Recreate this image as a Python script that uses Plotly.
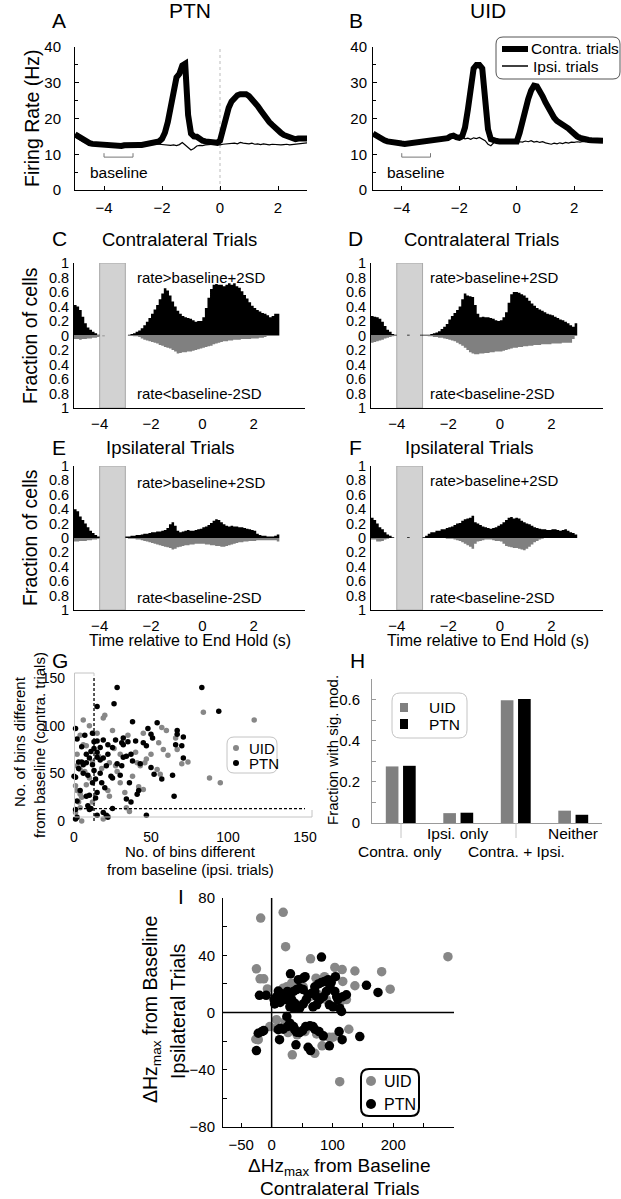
import numpy as np
import plotly.graph_objects as go

W, H = 621, 1199
FONT = "Liberation Sans, Arial, Helvetica, sans-serif"


def px(x):
    return x / W


def py(y):
    return 1 - y / H


# ------------------------------------------------------------------ data
# Panels A/B: mean firing rate (Hz), 0.1 s steps from -5 to 3 s
rate_time = [round(-5.0 + 0.1 * i, 1) for i in range(81)]
ptn_contra = [15.6, 15.0, 14.4, 13.9, 13.5, 13.1, 12.9, 12.8, 12.7, 12.6,
              12.6, 12.5, 12.5, 12.3, 12.2, 12.1, 12.3, 12.5, 12.6, 12.6,
              12.7, 12.6, 12.6, 12.6, 12.7, 12.8, 12.9, 13.1, 13.3, 13.6,
              14.3, 16.0, 19.0, 24.0, 29.0, 31.5, 32.5, 34.8, 35.3, 21.0,
              15.8, 15.0, 14.9, 14.2, 13.8, 13.6, 13.4, 13.2, 13.1, 13.2,
              13.8, 17.0, 20.5, 23.0, 24.8, 25.8, 26.5, 26.8, 27.0, 26.8,
              26.3, 25.5, 24.5, 23.5, 22.3, 21.0, 20.0, 19.0, 18.2, 17.3,
              16.6, 16.0, 15.4, 15.0, 14.6, 14.3, 14.2, 14.4, 14.5, 14.3,
              14.4]
ptn_ipsi = [14.8, 14.3, 13.8, 13.4, 13.1, 12.9, 12.8, 12.7, 12.6, 12.5,
            12.5, 12.4, 12.4, 12.2, 12.1, 12.0, 12.2, 12.4, 12.5, 12.5,
            12.6, 12.5, 12.5, 12.6, 12.6, 12.7, 12.8, 12.8, 12.9, 12.8,
            12.7, 12.8, 12.6, 12.5, 12.6, 12.4, 12.7, 13.3, 12.6, 12.0,
            11.2, 11.6, 12.3, 12.5, 12.4, 12.6, 12.7, 12.6, 12.8, 12.7,
            12.6, 12.8, 12.9, 12.8, 13.0, 13.1, 12.9, 13.3, 13.1, 13.0,
            12.9, 13.1, 12.8, 12.9, 12.7, 12.9, 12.8, 12.6, 12.8, 12.7,
            12.8, 12.6, 12.7, 12.8, 12.6, 12.7, 12.9, 12.8, 13.0, 13.1,
            13.2]
uid_contra = [15.8, 15.2, 14.6, 14.2, 13.9, 13.6, 13.4, 13.5, 13.3, 13.2,
              13.0, 12.9, 13.0, 13.1, 13.2, 13.3, 13.4, 13.4, 13.5, 13.6,
              13.6, 13.7, 13.8, 13.9, 14.0, 14.2, 14.5, 15.0, 15.2, 14.8,
              14.6, 15.0, 17.5, 22.5, 29.0, 34.0, 35.0, 35.0, 34.0, 26.0,
              17.0, 14.2, 13.8, 13.7, 13.6, 13.6, 13.5, 13.4, 13.4, 13.4,
              13.6, 16.0, 19.5, 22.5, 25.5, 27.8, 29.2, 29.0, 27.8, 26.2,
              24.5, 22.8, 21.3, 20.2, 19.3, 18.8, 18.6, 18.1, 17.2, 16.4,
              15.6, 15.0, 14.6, 14.3, 14.1, 14.0, 13.9, 13.8, 13.7, 13.6,
              13.8]
uid_ipsi = [15.5, 15.0, 14.4, 14.0, 13.7, 13.5, 13.3, 13.3, 13.1, 13.0,
            12.8, 12.8, 12.9, 13.0, 13.1, 13.2, 13.2, 13.3, 13.4, 13.4,
            13.5, 13.5, 13.6, 13.7, 13.8, 14.0, 14.2, 14.6, 14.8, 14.5,
            14.4, 14.6, 14.3, 14.5, 14.2, 14.6, 14.4, 14.7, 14.3, 13.8,
            12.8, 12.4, 13.2, 13.8, 13.6, 13.9, 13.5, 13.7, 13.4, 13.6,
            13.3, 13.5, 13.4, 13.7, 13.5, 13.8, 13.4, 13.6, 13.3, 13.5,
            13.2, 13.0, 12.8, 13.1, 12.9, 13.2, 13.0, 13.3, 13.1, 13.4,
            13.3, 13.5, 13.4, 13.6, 13.5, 13.7, 13.6, 13.8, 13.7, 13.9,
            14.0]

# Panels C-F: fraction of cells per 0.1 s bin (left edges -5.0 ... 2.9)
hist_edges = [round(-5.0 + 0.1 * i, 1) for i in range(81)]
C_up = [0.42, 0.40, 0.35, 0.26, 0.17, 0.11, 0.08, 0.05, 0.03, 0.01,
        0, 0, 0, 0, 0, 0, 0, 0, 0, 0,
        0.00, 0.01, 0.02, 0.03, 0.05, 0.07, 0.10, 0.14, 0.19, 0.24,
        0.30, 0.36, 0.42, 0.50, 0.58, 0.65, 0.62, 0.55, 0.47, 0.40,
        0.34, 0.30, 0.27, 0.25, 0.24, 0.23, 0.21, 0.19, 0.20, 0.20,
        0.25, 0.38, 0.52, 0.64, 0.70, 0.71, 0.70, 0.70, 0.68, 0.70,
        0.72, 0.70, 0.72, 0.68, 0.66, 0.61, 0.56, 0.51, 0.46, 0.41,
        0.38, 0.35, 0.33, 0.31, 0.30, 0.28, 0.25, 0.27, 0.30, 0.30]
C_dn = [0.05, 0.05, 0.06, 0.05, 0.05, 0.04, 0.04, 0.03, 0.03, 0.02,
        0, 0.01, 0, 0, 0, 0, 0, 0, 0, 0,
        0, 0, 0, 0.01, 0.01, 0.02, 0.04, 0.06, 0.07, 0.08,
        0.09, 0.10, 0.11, 0.13, 0.14, 0.16, 0.17, 0.18, 0.20, 0.22,
        0.25, 0.24, 0.23, 0.23, 0.22, 0.22, 0.21, 0.20, 0.19, 0.18,
        0.17, 0.16, 0.15, 0.14, 0.12, 0.11, 0.10, 0.09, 0.08, 0.08,
        0.07, 0.07, 0.06, 0.06, 0.06, 0.05, 0.05, 0.05, 0.05, 0.04,
        0.04, 0.04, 0.03, 0.03, 0.02, 0, 0, 0, 0, 0]
D_up = [0.27, 0.26, 0.25, 0.23, 0.19, 0.13, 0.08, 0.05, 0.02, 0.01,
        0, 0, 0, 0, 0.01, 0, 0, 0, 0, 0.01,
        0.01, 0.01, 0.01, 0.02, 0.03, 0.04, 0.06, 0.09, 0.12, 0.16,
        0.22, 0.27, 0.31, 0.35, 0.40, 0.50, 0.58, 0.55, 0.54, 0.53,
        0.42, 0.30, 0.25, 0.26, 0.25, 0.25, 0.24, 0.23, 0.21, 0.20,
        0.21, 0.25, 0.32, 0.45, 0.57, 0.60, 0.60, 0.59, 0.57, 0.55,
        0.52, 0.48, 0.44, 0.41, 0.38, 0.36, 0.34, 0.32, 0.30, 0.29,
        0.28, 0.26, 0.24, 0.22, 0.21, 0.19, 0.17, 0.14, 0.12, 0.17]
D_dn = [0.10, 0.09, 0.08, 0.07, 0.06, 0.04, 0.03, 0.02, 0.01, 0,
        0, 0, 0, 0, 0, 0, 0, 0, 0, 0,
        0, 0, 0.01, 0.01, 0.02, 0.02, 0.03, 0.03, 0.04, 0.05,
        0.06, 0.07, 0.08, 0.10, 0.12, 0.14, 0.17, 0.20, 0.23, 0.25,
        0.26, 0.26, 0.25, 0.25, 0.24, 0.24, 0.23, 0.23, 0.22, 0.22,
        0.22, 0.21, 0.20, 0.19, 0.18, 0.17, 0.17, 0.16, 0.16, 0.15,
        0.15, 0.14, 0.14, 0.13, 0.13, 0.13, 0.12, 0.12, 0.12, 0.12,
        0.11, 0.11, 0.11, 0.11, 0.10, 0.10, 0.10, 0.10, 0.05, 0]
E_up = [0.40, 0.37, 0.30, 0.25, 0.20, 0.15, 0.10, 0.07, 0.04, 0.02,
        0, 0, 0, 0, 0, 0, 0, 0, 0, 0,
        0.02, 0.02, 0.03, 0.03, 0.04, 0.04, 0.05, 0.06, 0.06, 0.07,
        0.08, 0.08, 0.09, 0.09, 0.10, 0.11, 0.14, 0.19, 0.22, 0.17,
        0.10, 0.08, 0.09, 0.10, 0.11, 0.10, 0.10, 0.11, 0.12, 0.13,
        0.15, 0.16, 0.18, 0.21, 0.24, 0.26, 0.25, 0.22, 0.19, 0.17,
        0.16, 0.17, 0.16, 0.16, 0.15, 0.15, 0.14, 0.13, 0.12, 0.11,
        0.10, 0.06, 0.04, 0.03, 0.03, 0.02, 0.02, 0.02, 0.03, 0.05]
E_dn = [0.05, 0.05, 0.04, 0.04, 0.04, 0.03, 0.03, 0.02, 0.02, 0.01,
        0, 0, 0, 0, 0, 0, 0, 0, 0, 0,
        0, 0.01, 0.01, 0.01, 0.02, 0.02, 0.03, 0.04, 0.05, 0.06,
        0.07, 0.08, 0.09, 0.10, 0.11, 0.12, 0.13, 0.14, 0.16, 0.15,
        0.13, 0.12, 0.11, 0.10, 0.10, 0.09, 0.09, 0.08, 0.08, 0.08,
        0.08, 0.09, 0.09, 0.10, 0.10, 0.11, 0.11, 0.12, 0.12, 0.11,
        0.10, 0.09, 0.08, 0.07, 0.06, 0.06, 0.05, 0.05, 0.04, 0.04,
        0.04, 0.03, 0.03, 0.03, 0.03, 0.03, 0.03, 0.03, 0.03, 0.05]
F_up = [0.28, 0.25, 0.20, 0.15, 0.12, 0.08, 0.05, 0.03, 0.01, 0,
        0, 0, 0, 0, 0.01, 0, 0, 0, 0, 0,
        0.01, 0.03, 0.06, 0.08, 0.08, 0.10, 0.10, 0.12, 0.12, 0.14,
        0.15, 0.16, 0.18, 0.20, 0.21, 0.24, 0.26, 0.27, 0.28, 0.31,
        0.22, 0.20, 0.18, 0.16, 0.15, 0.14, 0.13, 0.14, 0.15, 0.17,
        0.19, 0.22, 0.25, 0.28, 0.29, 0.27, 0.28, 0.27, 0.24, 0.22,
        0.20, 0.19, 0.17, 0.15, 0.14, 0.13, 0.12, 0.12, 0.11, 0.11,
        0.12, 0.12, 0.11, 0.10, 0.11, 0.12, 0.10, 0.08, 0.07, 0.05]
F_dn = [0.02, 0.02, 0.05, 0.05, 0.04, 0.02, 0.01, 0, 0, 0,
        0, 0, 0, 0, 0, 0, 0, 0, 0, 0,
        0, 0, 0, 0, 0, 0, 0, 0, 0, 0.01,
        0.01, 0.01, 0.02, 0.03, 0.04, 0.06, 0.08, 0.10, 0.12, 0.15,
        0.08, 0.05, 0.04, 0.03, 0.02, 0.02, 0.02, 0.03, 0.04, 0.04,
        0.05, 0.08, 0.11, 0.12, 0.13, 0.14, 0.14, 0.15, 0.16, 0.17,
        0.15, 0.12, 0.09, 0.06, 0.04, 0.02, 0.01, 0, 0, 0,
        0, 0, 0, 0, 0, 0, 0, 0, 0, 0]

# Panel G: number of bins different from baseline (ipsi, contra)
G_threshold_ipsi = 13
G_threshold_contra = 13
G_ptn = [(28, 140), (83, 140), (94, 115), (15, 120), (26, 123), (1, 97), (38, 104), (48, 97),
         (54, 103), (67, 95), (67, 91), (71, 88), (50, 91), (51, 87), (2, 86), (7, 90), (13, 83),
         (15, 84), (11, 73), (13, 76), (15, 72), (17, 77), (22, 80), (25, 77), (27, 85), (32, 87),
         (32, 80), (31, 82), (35, 83), (40, 84), (45, 82), (47, 79), (66, 80), (70, 79), (71, 66),
         (1, 46), (5, 62), (6, 59), (8, 61), (10, 66), (12, 59), (13, 53), (15, 67), (17, 64),
         (19, 66), (21, 58), (31, 58), (32, 67), (34, 68), (37, 70), (38, 63), (50, 56), (52, 49),
         (57, 44), (64, 48), (2, 21), (8, 26), (10, 27), (14, 24), (15, 30), (18, 40), (20, 35),
         (24, 47), (25, 45), (34, 23), (37, 20), (65, 26), (42, 32), (41, 28), (1, 12), (1, 2),
         (2, 4), (10, 12), (11, 13), (19, 9), (21, 6), (22, 4), (47, 6), (9, 16), (5, 78), (8, 70),
         (3, 55), (9, 48), (12, 40), (17, 50), (22, 70), (28, 60), (30, 48), (43, 60), (36, 40),
         (19, 85), (4, 32), (25, 13), (15, 6), (12, 92), (0, 47), (3, 62), (6, 50), (14, 44)]
G_uid = [(84, 114), (117, 106), (20, 111), (19, 108), (6, 106), (57, 98), (66, 87), (6, 80),
         (8, 79), (55, 82), (58, 75), (61, 69), (74, 62), (67, 75), (2, 58), (4, 54), (23, 61),
         (27, 58), (28, 52), (41, 61), (43, 58), (46, 61), (47, 65), (54, 54), (56, 49), (88, 45),
         (95, 40), (1, 37), (2, 32), (4, 28), (5, 25), (22, 32), (23, 26), (42, 36), (45, 33),
         (34, 14), (36, 10), (1, 9), (4, 14), (5, 0), (19, 2), (22, 5), (10, 100), (15, 92),
         (25, 95), (35, 90), (45, 92), (40, 72), (30, 70), (18, 55), (10, 45), (8, 38), (12, 20),
         (30, 40), (50, 70), (60, 95), (70, 60), (2, 70), (4, 90), (3, 20), (12, 62), (33, 30),
         (7, 52), (26, 76), (16, 68), (38, 47)]

# Panel H: fraction with significant modulation
H_categories = ["Contra. only", "Ipsi. only", "Contra. + Ipsi.", "Neither"]
H_uid = [0.275, 0.048, 0.597, 0.060]
H_ptn = [0.278, 0.050, 0.603, 0.040]

# Panel I: max change in rate from baseline (contra, ipsi)
I_ptn = [(82, 38.7), (31, 27), (55, 25), (105, 25), (156, 19), (175, 14), (-20, 12), (-9, 12),
         (11, 15), (14, 13.5), (19, 12.4), (8, 11), (4, 9), (5, 6), (14, 7), (22, 9), (27, 11),
         (33, 9), (38, 6.5), (42, 4), (36, 3), (46, 3), (52, 6), (57, 9), (60, 12.4), (66, 13.5),
         (71, 14.7), (74, 11), (79, 9), (85, 11), (90, 14.7), (96, 18), (98, 21), (104, 14.7),
         (107, 11), (109, 9), (112, 3), (115, 0.7), (117, 11), (123, 12.4), (71, 18), (77, 20),
         (82, 21), (87, 21.7), (93, 22.9), (52, 16), (46, 17), (41, 16), (36, 14.7), (26, 14.7),
         (68, 4), (74, 5.4), (95, 5.4), (101, 4), (30, 4), (44, 22.9), (52, 24),
         (-25, -26.6), (-22, -14.5), (-16, -13.3), (-13, -12.6), (13, -19), (11, -12), (19, -11.7),
         (26, -9.8), (30, -7.5), (36, -9.8), (38, -12), (41, -13.8), (46, -14), (51, -12.6),
         (56, -9.8), (63, -9.3), (68, -9.8), (71, -11.7), (78, -13.3), (85, -16.3), (95, -23.3),
         (111, -13.3), (116, -19), (145, -16.8), (40, -22.6), (60, -24.3), (64, -26.6),
         (25, -2.8), (14, -11)]
I_uid = [(-18, 66), (19, 70), (23, 46), (64, 37.5), (-25, 30.5), (-19, 23.5), (-13, 23.5),
         (-7, 16.5), (104, 31.5), (116, 30), (137, 29), (181, 28.5), (290, 39), (195, 16.3),
         (137, 18.7), (117, 21.7), (87, 25), (73, 24), (52, 18), (46, 21.7), (33, 20.5), (25, 18),
         (19, 17), (15, 14.7), (63, 11), (75, 13), (90, 9), (112, 6.5), (123, 9), (96, 20.5),
         (-26, -18.7), (-22, -19), (8, -5), (27, -14), (42, -15.6), (55, -13.3), (74, -15),
         (85, -16.8), (95, -17.3), (101, -17.3), (127, -11.7), (34, -29.6), (71, -28.5),
         (83, -23.3), (112, -48.3), (8, -11), (22, -6.3), (-3, -9.8)]

GRAY = "#878787"
LIGHT = "#c4c4c4"

# ------------------------------------------------------------------ figure
fig = go.Figure()


def step(vals, sign, color, xa, ya):
    y = [sign * v for v in vals] + [sign * vals[-1]]
    return go.Scatter(x=hist_edges, y=y, mode="lines", fill="tozeroy",
                      line=dict(width=0, shape="hv", color=color), fillcolor=color,
                      xaxis=xa, yaxis=ya, hoverinfo="skip", showlegend=False)


# A, B rates
for (c, i, xa, ya) in [(ptn_contra, ptn_ipsi, "x", "y"), (uid_contra, uid_ipsi, "x2", "y2")]:
    fig.add_trace(go.Scatter(x=rate_time, y=i, mode="lines", line=dict(color="black", width=1.2),
                             xaxis=xa, yaxis=ya, showlegend=False))
    fig.add_trace(go.Scatter(x=rate_time, y=c, mode="lines", line=dict(color="black", width=6),
                             xaxis=xa, yaxis=ya, showlegend=False))

# C-F histograms
for (up, dn, n) in [(C_up, C_dn, 3), (D_up, D_dn, 4), (E_up, E_dn, 5), (F_up, F_dn, 6)]:
    fig.add_trace(step(up, 1, "black", f"x{n}", f"y{n}"))
    fig.add_trace(step(dn, -1, "#808080", f"x{n}", f"y{n}"))

# G scatter
fig.add_trace(go.Scatter(x=[p[0] for p in G_uid], y=[p[1] for p in G_uid], mode="markers",
                         marker=dict(color=GRAY, size=5.5), xaxis="x7", yaxis="y7",
                         showlegend=False, cliponaxis=False))
fig.add_trace(go.Scatter(x=[p[0] for p in G_ptn], y=[p[1] for p in G_ptn], mode="markers",
                         marker=dict(color="black", size=5.5), xaxis="x7", yaxis="y7",
                         showlegend=False, cliponaxis=False))

# H bars
hx = [1, 2, 3, 4]
fig.add_trace(go.Bar(x=hx, y=H_uid, width=0.22, offset=-0.26, marker=dict(color="#808080", line=dict(width=0)),
                     xaxis="x8", yaxis="y8", showlegend=False))
fig.add_trace(go.Bar(x=hx, y=H_ptn, width=0.22, offset=0.04, marker=dict(color="black", line=dict(width=0)),
                     xaxis="x8", yaxis="y8", showlegend=False))

# I scatter
fig.add_trace(go.Scatter(x=[p[0] for p in I_uid], y=[p[1] for p in I_uid], mode="markers",
                         marker=dict(color=GRAY, size=9.5), xaxis="x9", yaxis="y9",
                         showlegend=False, cliponaxis=False))
fig.add_trace(go.Scatter(x=[p[0] for p in I_ptn], y=[p[1] for p in I_ptn], mode="markers",
                         marker=dict(color="black", size=9.5), xaxis="x9", yaxis="y9",
                         showlegend=False, cliponaxis=False))

# ------------------------------------------------------------------ axes
TF = dict(family=FONT, size=15, color="black")
TF_SMALL = dict(family=FONT, size=14, color="black")


def axis(x0, x1, rng, anchor, horizontal, **kw):
    if horizontal:
        dom = [px(x0), px(x1)]
    else:
        dom = [py(x1), py(x0)]
    d = dict(domain=dom, range=rng, anchor=anchor, showgrid=False, zeroline=False,
             showline=True, linecolor="black", linewidth=1, ticks="inside", ticklen=4,
             tickcolor="black", tickfont=TF, automargin=False, fixedrange=True)
    d.update(kw)
    return d


lay = {}
# A
lay["xaxis"] = axis(75, 307, [-5, 3], "y", True, tickvals=[-4, -2, 0, 2], ticklabelstandoff=4)
lay["yaxis"] = axis(47, 190, [0, 40], "x", False, tickvals=[0, 10, 20, 30, 40],
                    minor=dict(dtick=5, ticks="inside", ticklen=3, tickcolor="black"),
                    ticklabelstandoff=10)
# B
lay["xaxis2"] = axis(373, 603, [-5, 3], "y2", True, tickvals=[-4, -2, 0, 2], ticklabelstandoff=4)
lay["yaxis2"] = axis(47, 190, [0, 40], "x2", False, tickvals=[0, 10, 20, 30, 40],
                     minor=dict(dtick=5, ticks="inside", ticklen=3, tickcolor="black"),
                     ticklabelstandoff=2)
# C-F
frac_vals = [round(-1 + 0.2 * k, 1) for k in range(11)]
frac_text = ["1", "0.8", "0.6", "0.4", "0.2", "0", "0.2", "0.4", "0.6", "0.8", "1"]
for n, (x0, x1, y0, y1) in {3: (74, 305, 263, 408), 4: (371, 603, 263, 408),
                            5: (74, 305, 466, 610), 6: (371, 603, 466, 610)}.items():
    lay[f"xaxis{n}"] = axis(x0, x1, [-5, 4], f"y{n}", True, tickvals=[-4, -2, 0, 2], ticks="",
                            ticklabelstandoff=2)
    lay[f"yaxis{n}"] = axis(y0, y1, [-1, 1], f"x{n}", False, tickvals=frac_vals[::-1],
                            ticktext=frac_text, ticks="", ticklabelstandoff=1,
                            tickfont=dict(family=FONT, size=14.5, color="black"))
# G
lay["xaxis7"] = axis(74, 305, [0, 150], "y7", True, showline=False, ticks="",
                     tickvals=[0, 50, 100, 150], ticklabelstandoff=6, tickfont=TF_SMALL)
lay["yaxis7"] = axis(678, 821, [0, 150], "x7", False, showline=False, ticks="",
                     tickvals=[0, 50, 100, 150], ticklabelstandoff=8, tickfont=TF_SMALL)
# H
lay["xaxis8"] = axis(372, 602, [0.5, 4.5], "y8", True, linecolor="#9a9a9a", ticks="",
                     showticklabels=False)
lay["yaxis8"] = axis(679, 823, [0, 0.7], "x8", False, linecolor="#9a9a9a",
                     tickvals=[0, 0.2, 0.4, 0.6], ticktext=["0", "0.2", "0.4", "0.6"],
                     tickcolor="#9a9a9a",
                     minor=dict(dtick=0.1, ticks="inside", ticklen=4, tickcolor="#9a9a9a"),
                     ticklabelstandoff=8)
# I
lay["xaxis9"] = axis(223, 454, [-80, 300], "y9", True, tickvals=[-50, 0, 100, 200],
                     minor=dict(tickvals=[50, 150, 250], ticks="inside", ticklen=4, tickcolor="black"),
                     ticklabelstandoff=4)
lay["yaxis9"] = axis(898, 1127, [-80, 80], "x9", False, tickvals=[-80, -40, 0, 40, 80],
                     minor=dict(dtick=20, ticks="inside", ticklen=4, tickcolor="black"),
                     ticklabelstandoff=4)

# ------------------------------------------------------------------ shapes
shapes = []


def pline(x0, y0, x1, y1, color="black", width=1, dash=None):
    d = dict(type="line", xref="paper", yref="paper", x0=px(x0), y0=py(y0), x1=px(x1), y1=py(y1),
             line=dict(color=color, width=width))
    if dash:
        d["line"]["dash"] = dash
    return d


def rrect(x0, y0, x1, y1, r, color, width):
    X, Y = px, py
    p = (f"M {X(x0 + r)},{Y(y0)} L {X(x1 - r)},{Y(y0)} Q {X(x1)},{Y(y0)} {X(x1)},{Y(y0 + r)} "
         f"L {X(x1)},{Y(y1 - r)} Q {X(x1)},{Y(y1)} {X(x1 - r)},{Y(y1)} L {X(x0 + r)},{Y(y1)} "
         f"Q {X(x0)},{Y(y1)} {X(x0)},{Y(y1 - r)} L {X(x0)},{Y(y0 + r)} Q {X(x0)},{Y(y0)} {X(x0 + r)},{Y(y0)} Z")
    return dict(type="path", xref="paper", yref="paper", path=p, line=dict(color=color, width=width),
                fillcolor="white")


def dot(cx, cy, r, color):
    return dict(type="circle", xref="paper", yref="paper", x0=px(cx - r), x1=px(cx + r),
                y0=py(cy + r), y1=py(cy - r), fillcolor=color, line=dict(width=0))


def box(x0, y0, x1, y1, color):
    return dict(type="rect", xref="paper", yref="paper", x0=px(x0), x1=px(x1),
                y0=py(y1), y1=py(y0), fillcolor=color, line=dict(width=0))


# A: dotted zero line + baseline brackets
shapes.append(dict(type="line", xref="x", yref="y", x0=0, x1=0, y0=0, y1=40,
                   line=dict(color="#bbbbbb", width=1, dash="dot"), layer="below"))
for xa, ya in [("x", "y"), ("x2", "y2")]:
    shapes.append(dict(type="path", xref=xa, yref=ya, path="M -4,10.3 L -4,9.2 L -3,9.2 L -3,10.3",
                       line=dict(color="#777777", width=1)))
# C-F shaded baseline window
for n in (3, 4, 5, 6):
    shapes.append(dict(type="rect", xref=f"x{n}", yref=f"y{n}", x0=-4, x1=-3, y0=-1, y1=1,
                       fillcolor="#d2d2d2", line=dict(color="#a8a8a8", width=1), layer="below"))
# G thresholds and light frame pieces
shapes.append(dict(type="line", xref="x7", yref="y7", x0=G_threshold_ipsi, x1=G_threshold_ipsi,
                   y0=0, y1=150, line=dict(color="black", width=1.3, dash="3px,2px")))
shapes.append(dict(type="line", xref="x7", yref="y7", x0=0, x1=150, y0=G_threshold_contra,
                   y1=G_threshold_contra, line=dict(color="black", width=1.3, dash="3px,2px")))
shapes += [pline(74.5, 673, 94, 673, LIGHT), pline(94, 673, 94, 676, LIGHT),
           pline(74.5, 673, 74.5, 817, LIGHT), pline(74.5, 817, 312, 817, LIGHT),
           pline(312, 810, 312, 817, LIGHT)]
# H long tick lines for lower labels
shapes += [pline(401, 823, 401, 838, LIGHT), pline(516, 823, 516, 838, LIGHT)]
# I zero lines
shapes.append(dict(type="line", xref="x9", yref="y9", x0=0, x1=0, y0=-80, y1=80,
                   line=dict(color="black", width=1.5)))
shapes.append(dict(type="line", xref="x9", yref="y9", x0=-80, x1=300, y0=0, y1=0,
                   line=dict(color="black", width=1.5)))

# legends
shapes.append(rrect(496, 37, 620, 79, 7, "#555555", 1))
shapes.append(pline(502, 49, 528, 49, "black", 6))
shapes.append(pline(502, 66, 528, 66, "black", 1.5))
shapes.append(rrect(227, 737, 277, 773, 7, LIGHT, 1))
shapes.append(dot(236, 748, 3, GRAY))
shapes.append(dot(236, 763, 3, "black"))
shapes.append(rrect(392, 693, 467, 738, 8, LIGHT, 1))
shapes.append(box(400, 703, 408, 712, "#808080"))
shapes.append(box(400, 719, 408, 729, "black"))
shapes.append(rrect(361, 1069, 419, 1116, 8, "black", 2))
shapes.append(dot(371, 1081, 5, GRAY))
shapes.append(dot(371, 1104, 5, "black"))

# ------------------------------------------------------------------ annotations
ann = []


def txt(x, y, s, size, xanchor="center", angle=0, color="black"):
    ann.append(dict(xref="paper", yref="paper", x=px(x), y=py(y), text=s, showarrow=False,
                    font=dict(family=FONT, size=size, color=color), xanchor=xanchor,
                    yanchor="middle", textangle=angle))


txt(59, 20, "A", 21)
txt(190, 11, "PTN", 21)
txt(356, 20, "B", 21)
txt(488, 11, "UID", 21)
txt(32, 118, "Firing Rate (Hz)", 19.5, angle=-90)
txt(119, 172, "baseline", 15.5)
txt(416, 172, "baseline", 15.5)
txt(529, 49, "Contra. trials", 15.5, xanchor="left")
txt(531, 66, "Ipsi. trials", 15.5, xanchor="left")

txt(59, 238, "C", 21)
txt(179, 240, "Contralateral Trials", 18.5)
txt(355, 238, "D", 21)
txt(481, 240, "Contralateral Trials", 18.5)
txt(59, 447, "E", 21)
txt(170, 447, "Ipsilateral Trials", 18.5)
txt(355, 447, "F", 21)
txt(469, 447, "Ipsilateral Trials", 18.5)
txt(30, 336, "Fraction of cells", 19.5, angle=-90)
txt(30, 538, "Fraction of cells", 19.5, angle=-90)
for (lx, ytop, ybot) in [(135, 277, 393), (428, 277, 393), (135, 482, 597), (428, 480, 597)]:
    txt(lx, ytop, "rate&gt;baseline+2SD", 15, xanchor="left")
    txt(lx, ybot, "rate&lt;baseline-2SD", 15, xanchor="left")
txt(190, 640, "Time relative to End Hold (s)", 16)
txt(488, 640, "Time relative to End Hold (s)", 16)

txt(60, 660, "G", 21)
txt(19, 742, "No. of bins different", 15, angle=-90)
txt(39, 745, "from baseline (contra. trials)", 15, angle=-90)
txt(190, 851, "No. of bins different", 15)
txt(190, 869, "from baseline (ipsi. trials)", 15)
txt(247, 748, "UID", 15, xanchor="left")
txt(247, 763, "PTN", 15, xanchor="left")

txt(357, 660, "H", 21)
txt(332, 750, "Fraction with sig. mod.", 15, angle=-90)
txt(427, 707, "UID", 15.5, xanchor="left")
txt(427, 725, "PTN", 15.5, xanchor="left")
txt(458, 833, H_categories[1], 15.5)
txt(573, 833, H_categories[3], 15.5)
txt(400, 851, H_categories[0], 15.5)
txt(516, 851, H_categories[2], 15.5)

txt(181, 896, "I", 21)
txt(151, 1010, "ΔHz<sub>max</sub> from Baseline", 19.5, angle=-90)
txt(178, 1011, "Ipsilateral Trials", 19.5, angle=-90)
txt(339, 1167, "ΔHz<sub>max</sub> from Baseline", 19)
txt(339, 1188, "Contralateral Trials", 19)
txt(382, 1081, "UID", 16, xanchor="left")
txt(382, 1104, "PTN", 16, xanchor="left")

fig.update_layout(width=W, height=H, margin=dict(l=0, r=0, t=0, b=0, pad=0, autoexpand=False),
                  autosize=False, hovermode=False,
                  paper_bgcolor="white", plot_bgcolor="rgba(0,0,0,0)", showlegend=False,
                  barmode="overlay", shapes=shapes, annotations=ann,
                  font=dict(family=FONT, color="black"), **lay)

fig.write_html("out.html", config={"displayModeBar": False, "staticPlot": True},
               post_script="document.body.style.margin='0';document.body.style.padding='0';"
                           "document.documentElement.style.overflow='hidden';")
